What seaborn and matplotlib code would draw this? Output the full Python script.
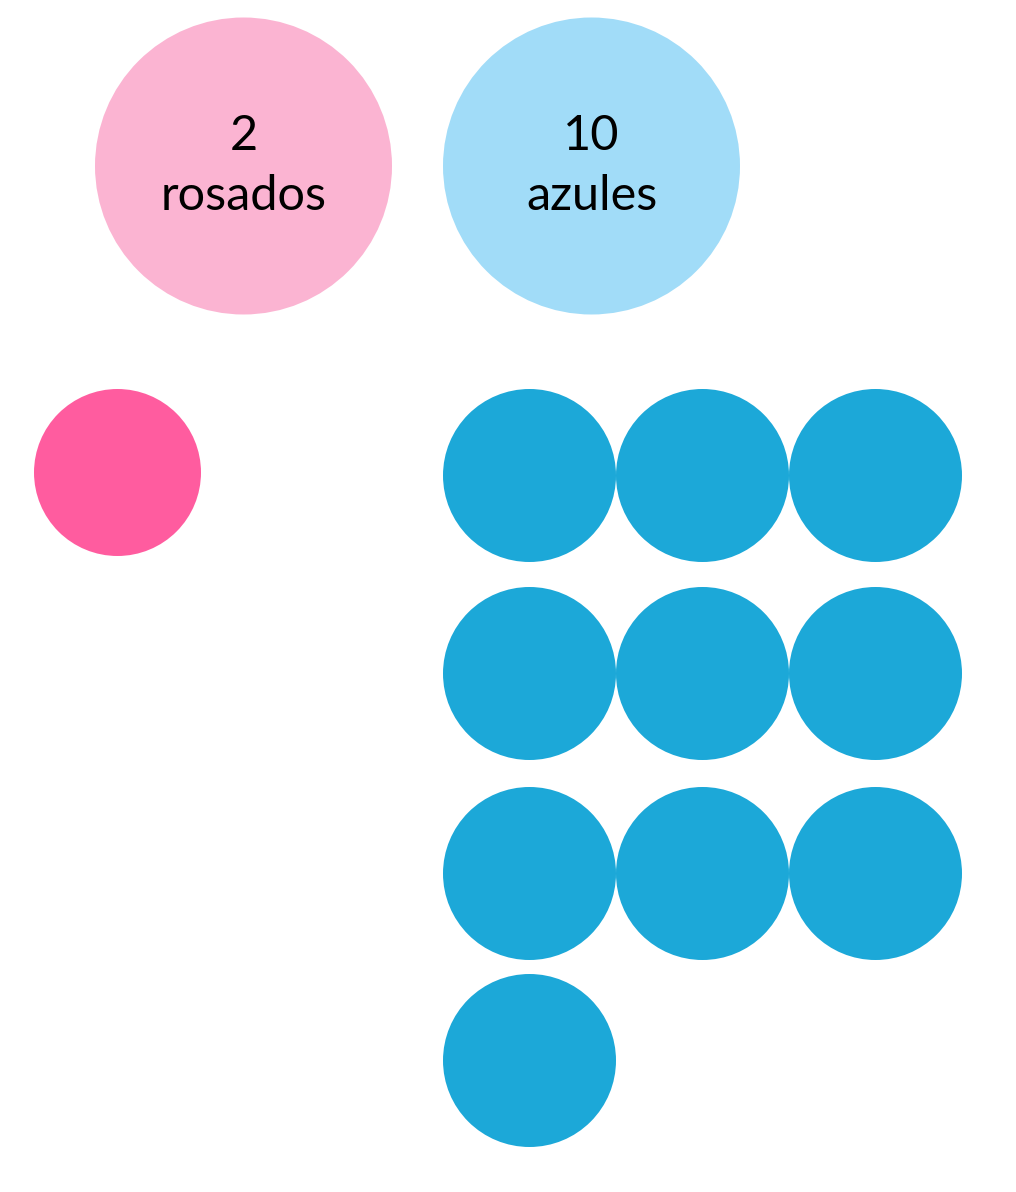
import numpy as np
import pandas as pd
import matplotlib
matplotlib.use("Agg")
import matplotlib.pyplot as plt
import seaborn as sns

# data
groups = ["rosados", "azules"]
counts = [2, 10]          # numbers written in the big circles
dots_shown = [1, 10]      # dots drawn below each big circle
light_colors = ["#FBB4D2", "#A1DCF8"]
dark_colors = ["#FF5C9F", "#1CA8D8"]

# layout (pixel space, y down)
W, H = 1016, 1192
big_x = [243.5, 591.5]
big_y = 166
big_r = 148.5
dot_r = [83.5, 86.5]
dot_start = [(116.5, 471.5), (529, 475)]
dot_cols = [1, 3]
col_step = 173
row_y = [0, 198, 398, 585]   # row offsets from first row

sns.set_theme(style="white")
plt.rcParams["font.family"] = ["Lato", "DejaVu Sans"]

fig = plt.figure(figsize=(W / 100, H / 100), dpi=100)
ax = fig.add_axes([0, 0, 1, 1])


def pts2(r):
    # marker area in points^2 for a circle of radius r pixels (1 data unit = 1 px)
    return (2 * r * 72 / 100) ** 2


big = pd.DataFrame({"group": groups, "x": big_x, "y": [big_y] * len(groups)})
sns.scatterplot(data=big, x="x", y="y", hue="group", palette=light_colors,
                s=pts2(big_r), linewidth=0, legend=False, ax=ax)

for i, g in enumerate(groups):
    idx = np.arange(dots_shown[i])
    x0, y0 = dot_start[i]
    df = pd.DataFrame({
        "x": x0 + (idx % dot_cols[i]) * col_step,
        "y": [y0 + row_y[k] for k in idx // dot_cols[i]],
    })
    sns.scatterplot(data=df, x="x", y="y", color=dark_colors[i],
                    s=pts2(dot_r[i]), linewidth=0, legend=False, ax=ax)

    ax.text(big_x[i], big_y - 30, str(counts[i]), ha="center", va="center",
            fontsize=35, color="black")
    ax.text(big_x[i], big_y + 30, g, ha="center", va="center",
            fontsize=35, color="black")

ax.set_xlim(0, W)
ax.set_ylim(H, 0)
ax.set_axis_off()
fig.savefig("out.png", dpi=100, facecolor="white")
